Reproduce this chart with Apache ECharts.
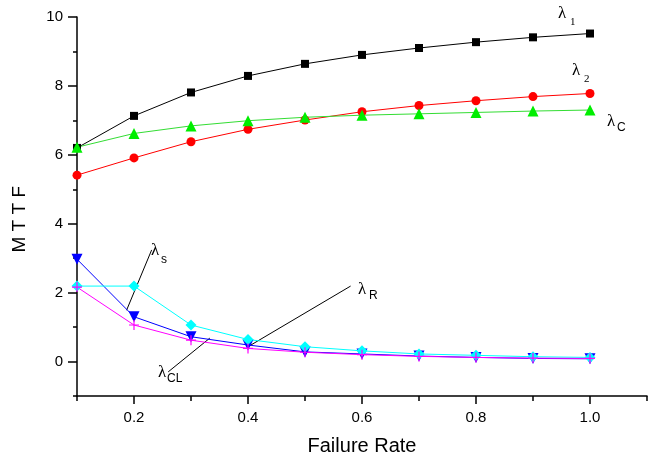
<!DOCTYPE html>
<html>
<head>
<meta charset="utf-8">
<script src="https://cdn.jsdelivr.net/npm/echarts@6/dist/echarts.min.js"></script>
<style>
  html, body { margin: 0; padding: 0; background: #fff; }
  #chart { width: 653px; height: 456px; }
</style>
</head>
<body>
<div id="chart"></div>
<script>
// failure rate values (x)
const failureRate = [0.1, 0.2, 0.3, 0.4, 0.5, 0.6, 0.7, 0.8, 0.9, 1.0];
// MTTF values
const lambda1 = [6.20, 7.13, 7.81, 8.29, 8.64, 8.90, 9.10, 9.27, 9.41, 9.52];
const lambda2 = [5.41, 5.91, 6.38, 6.74, 7.01, 7.25, 7.43, 7.57, 7.69, 7.78];
const lambdaC = [6.22, 6.62, 6.84, 6.99, 7.09, 7.15, 7.19, 7.23, 7.27, 7.30];
const lambdaS = [2.97, 1.30, 0.72, 0.48, 0.28, 0.22, 0.16, 0.12, 0.09, 0.08];
const lambdaR = [2.19, 2.19, 1.06, 0.64, 0.43, 0.31, 0.22, 0.18, 0.14, 0.12];
const lambdaCL = [2.16, 1.06, 0.62, 0.38, 0.27, 0.20, 0.15, 0.12, 0.10, 0.09];

const xMajorTicks = [0.2, 0.4, 0.6, 0.8, 1.0];
const xMinorTicks = [0.1, 0.3, 0.5, 0.7, 0.9, 1.1];
const yMajorTicks = [0, 2, 4, 6, 8, 10];
const yMinorTicks = [-1, 1, 3, 5, 7, 9];

const chart = echarts.init(document.getElementById('chart'));

function pairs(ys) {
    return failureRate.map((x, i) => [x, ys[i]]);
}

const plus = 'path://M4.4,0h1.2v4.4h4.4v1.2h-4.4v4.4h-1.2v-4.4h-4.4v-1.2h4.4z';

function lineSeries(name, ys, color, symbol, size, extra) {
    return Object.assign({
        name: name,
        type: 'line',
        data: pairs(ys),
        symbol: symbol,
        symbolSize: size,
        showSymbol: true,
        lineStyle: { color: color, width: 1 },
        itemStyle: { color: color },
        animation: false
    }, extra || {});
}

// label: λ + subscript
function lam(x, y, sub, subDx, subDy, subFont) {
    return [
        {
            type: 'text', left: x, top: y,
            style: { text: 'λ', font: '17px "Liberation Serif", serif', fill: '#000' }
        },
        {
            type: 'text', left: x + subDx, top: y + subDy,
            style: { text: sub, font: subFont, fill: '#000' }
        }
    ];
}

const sansSub = '12px "Liberation Sans", Arial, sans-serif';
const serifSub = '11px "Liberation Serif", serif';

const annotationLines = [
    [[0.187, 1.49], [0.231, 3.24]],
    [[0.260, -0.30], [0.333, 0.68]],
    [[0.400, 0.43], [0.580, 2.19]]
];

const tickStyle = { color: '#000', width: 1.5 };
const labelFont = 'Liberation Sans, Arial';

const option = {
    backgroundColor: '#fff',
    animation: false,
    grid: { left: 77, right: 6, top: 17, bottom: 60, outerBoundsMode: 'none', containLabel: false },
    xAxis: [
        {
            type: 'value',
            min: 0.1,
            max: 1.1,
            interval: 0.1,
            name: 'Failure Rate',
            nameLocation: 'middle',
            nameGap: 40,
            nameTextStyle: { fontSize: 20, color: '#000', fontFamily: labelFont },
            axisLine: { show: true, onZero: false, lineStyle: tickStyle },
            axisTick: { show: true, customValues: xMajorTicks, length: 8, lineStyle: tickStyle },
            axisLabel: {
                customValues: xMajorTicks,
                formatter: v => v.toFixed(1),
                fontSize: 15, color: '#000', margin: 14,
                fontFamily: labelFont
            },
            splitLine: { show: false }
        },
        {
            type: 'value',
            min: 0.1,
            max: 1.1,
            interval: 0.1,
            position: 'bottom',
            axisLine: { show: false, onZero: false },
            axisTick: { show: true, customValues: xMinorTicks, length: 5, lineStyle: tickStyle },
            axisLabel: { show: false },
            splitLine: { show: false }
        }
    ],
    yAxis: [
        {
            type: 'value',
            min: -1,
            max: 10,
            interval: 1,
            axisLine: { show: true, onZero: false, lineStyle: tickStyle },
            axisTick: { show: true, customValues: yMajorTicks, length: 9, lineStyle: tickStyle },
            axisLabel: {
                customValues: yMajorTicks,
                fontSize: 15, color: '#000', margin: 14,
                fontFamily: labelFont
            },
            splitLine: { show: false }
        },
        {
            type: 'value',
            min: -1,
            max: 10,
            interval: 1,
            position: 'left',
            axisLine: { show: false, onZero: false },
            axisTick: { show: true, customValues: yMinorTicks, length: 4, lineStyle: tickStyle },
            axisLabel: { show: false },
            splitLine: { show: false }
        }
    ],
    series: [
        lineSeries('λ1', lambda1, '#000000', 'rect', 8),
        lineSeries('λ2', lambda2, '#ff0000', 'circle', 9),
        lineSeries('λC', lambdaC, '#00ee00', 'triangle', 11, { lineStyle: { color: '#33dd33', width: 1 } }),
        lineSeries('λS', lambdaS, '#0000ff', 'triangle', 11, { symbolRotate: 180 }),
        lineSeries('λR', lambdaR, '#00ffff', 'diamond', 11),
        lineSeries('λCL', lambdaCL, '#ff00ff', plus, 10),
        {
            type: 'lines',
            coordinateSystem: 'cartesian2d',
            data: annotationLines.map(c => ({ coords: c })),
            lineStyle: { color: '#000', width: 1, opacity: 1 },
            silent: true,
            animation: false
        }
    ],
    graphic: [
        {
            type: 'text',
            left: 10,
            top: 186,
            rotation: Math.PI / 2,
            style: { text: 'M T T F', font: '19px "Liberation Sans", Arial, sans-serif', fill: '#000' }
        }
    ]
        .concat(lam(558, 5, '1', 12, 12, serifSub))
        .concat(lam(572, 62, '2', 12, 12, serifSub))
        .concat(lam(607, 113, 'C', 10, 9, sansSub))
        .concat(lam(151, 242, 's', 10, 12, sansSub))
        .concat(lam(358, 281, 'R', 11, 9, sansSub))
        .concat(lam(158, 364, 'CL', 9, 9, sansSub))
};

chart.setOption(option);
</script>
</body>
</html>
